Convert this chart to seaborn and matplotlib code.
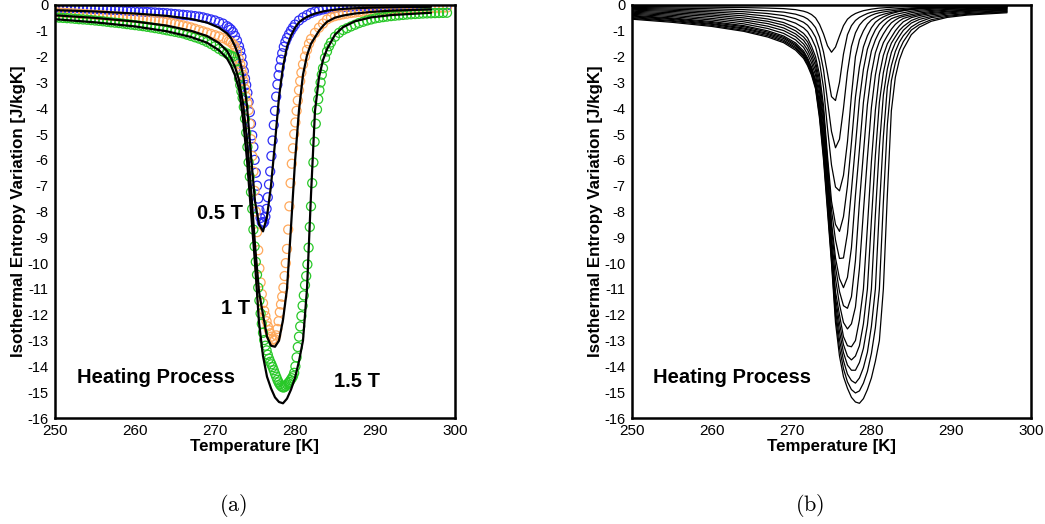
import matplotlib
matplotlib.use("Agg")
import matplotlib.pyplot as plt
import seaborn as sns
import pandas as pd
from matplotlib.ticker import MultipleLocator

# ---------------- data ----------------
# temperature grid shared by the model curves (panel b and fits in panel a)
grid_T = [250, 255, 260, 264, 267, 269, 270.5, 271.5, 272, 272.5, 273, 273.5, 274, 274.5,
          275, 275.5, 276, 276.5, 277, 277.5, 278, 278.5, 279, 279.5, 280, 280.5, 281, 281.5,
          282, 282.5, 283, 283.5, 284, 285, 286, 287.5, 289.5, 292, 297]

model_fields = [0.1, 0.2, 0.3, 0.4, 0.5, 0.6, 0.7, 0.8, 0.9, 1.0, 1.1, 1.2, 1.3, 1.4, 1.5]

model_dS = [
    [-0.06, -0.07, -0.085, -0.10, -0.12, -0.14, -0.18, -0.24, -0.29, -0.37, -0.50, -0.75, -1.12, -1.58, -1.83, -1.63, -1.20, -0.80, -0.55, -0.42, -0.33, -0.27, -0.22, -0.19, -0.16, -0.14, -0.12, -0.11, -0.10, -0.09, -0.08, -0.075, -0.07, -0.06, -0.055, -0.05, -0.045, -0.04, -0.03],
    [-0.095, -0.115, -0.146, -0.18, -0.225, -0.275, -0.355, -0.455, -0.54, -0.68, -0.875, -1.24, -1.82, -2.65, -3.55, -3.70, -3.00, -1.90, -1.15, -0.80, -0.60, -0.48, -0.40, -0.33, -0.28, -0.245, -0.215, -0.195, -0.175, -0.16, -0.15, -0.14, -0.13, -0.11, -0.10, -0.085, -0.075, -0.065, -0.05],
    [-0.13, -0.16, -0.208, -0.26, -0.33, -0.41, -0.53, -0.67, -0.785, -0.985, -1.25, -1.73, -2.51, -3.72, -4.90, -5.53, -5.20, -4.00, -2.60, -1.60, -1.08, -0.78, -0.60, -0.48, -0.40, -0.34, -0.30, -0.27, -0.245, -0.225, -0.205, -0.19, -0.18, -0.14, -0.12, -0.105, -0.09, -0.075, -0.06],
    [-0.165, -0.205, -0.269, -0.34, -0.435, -0.545, -0.705, -0.885, -1.03, -1.29, -1.625, -2.21, -3.20, -4.78, -6.20, -7.05, -7.20, -6.60, -5.30, -3.50, -2.00, -1.35, -1.00, -0.74, -0.58, -0.48, -0.41, -0.36, -0.32, -0.285, -0.255, -0.235, -0.215, -0.16, -0.14, -0.115, -0.10, -0.085, -0.065],
    [-0.20, -0.25, -0.33, -0.42, -0.54, -0.68, -0.88, -1.10, -1.28, -1.60, -2.00, -2.70, -3.90, -5.85, -7.60, -8.50, -8.77, -8.20, -7.00, -5.33, -3.57, -2.40, -1.62, -1.19, -0.88, -0.67, -0.55, -0.46, -0.39, -0.33, -0.29, -0.25, -0.22, -0.18, -0.15, -0.125, -0.105, -0.09, -0.07],
    [-0.24, -0.30, -0.39, -0.50, -0.63, -0.78, -1.00, -1.24, -1.43, -1.76, -2.18, -2.92, -4.16, -6.10, -7.94, -9.10, -9.82, -9.80, -8.85, -7.17, -5.45, -3.67, -2.49, -1.71, -1.28, -0.96, -0.74, -0.60, -0.49, -0.42, -0.37, -0.33, -0.30, -0.24, -0.20, -0.166, -0.138, -0.116, -0.09],
    [-0.28, -0.35, -0.45, -0.58, -0.72, -0.89, -1.12, -1.37, -1.59, -1.92, -2.36, -3.14, -4.42, -6.35, -8.40, -9.80, -10.60, -10.95, -10.55, -9.40, -7.38, -5.61, -3.77, -2.57, -1.78, -1.35, -1.03, -0.81, -0.65, -0.53, -0.47, -0.42, -0.38, -0.30, -0.25, -0.21, -0.17, -0.14, -0.11],
    [-0.32, -0.40, -0.52, -0.65, -0.82, -0.99, -1.23, -1.51, -1.74, -2.08, -2.54, -3.36, -4.68, -6.60, -8.62, -10.15, -11.10, -11.65, -11.75, -11.30, -9.90, -7.64, -5.74, -3.86, -2.65, -1.85, -1.41, -1.12, -0.88, -0.69, -0.58, -0.49, -0.44, -0.37, -0.31, -0.25, -0.20, -0.17, -0.13],
    [-0.36, -0.45, -0.58, -0.73, -0.91, -1.10, -1.35, -1.64, -1.90, -2.24, -2.72, -3.58, -4.94, -6.85, -8.96, -10.60, -11.60, -12.30, -12.55, -12.35, -11.70, -10.20, -8.00, -5.92, -3.97, -2.71, -1.90, -1.46, -1.19, -0.94, -0.75, -0.62, -0.52, -0.43, -0.36, -0.29, -0.24, -0.195, -0.15],
    [-0.40, -0.50, -0.64, -0.80, -1.00, -1.20, -1.47, -1.78, -2.05, -2.40, -2.90, -3.80, -5.20, -7.10, -9.30, -11.10, -12.00, -12.85, -13.20, -13.24, -13.00, -12.20, -11.00, -8.60, -6.07, -4.07, -2.70, -1.95, -1.50, -1.25, -1.00, -0.81, -0.65, -0.49, -0.41, -0.33, -0.27, -0.22, -0.17],
    [-0.43, -0.53, -0.68, -0.84, -1.05, -1.25, -1.53, -1.84, -2.11, -2.46, -2.97, -3.92, -5.36, -7.28, -9.44, -11.34, -12.32, -13.16, -13.60, -13.75, -13.60, -13.20, -12.35, -11.00, -8.35, -5.83, -3.77, -2.62, -1.90, -1.48, -1.23, -0.99, -0.83, -0.60, -0.48, -0.38, -0.31, -0.25, -0.20],
    [-0.46, -0.56, -0.72, -0.89, -1.10, -1.30, -1.58, -1.90, -2.17, -2.53, -3.04, -4.04, -5.52, -7.46, -9.58, -11.58, -12.64, -13.47, -13.95, -14.15, -14.15, -13.85, -13.30, -12.40, -11.00, -8.12, -5.48, -3.49, -2.48, -1.84, -1.46, -1.21, -0.98, -0.70, -0.56, -0.44, -0.35, -0.29, -0.22],
    [-0.49, -0.60, -0.75, -0.93, -1.14, -1.36, -1.64, -1.96, -2.23, -2.59, -3.11, -4.16, -5.68, -7.64, -9.72, -11.82, -12.96, -13.78, -14.30, -14.55, -14.65, -14.45, -14.05, -13.45, -12.45, -11.00, -7.88, -5.10, -3.18, -2.35, -1.80, -1.44, -1.19, -0.85, -0.66, -0.49, -0.40, -0.33, -0.25],
    [-0.52, -0.63, -0.79, -0.98, -1.19, -1.41, -1.69, -2.01, -2.29, -2.66, -3.18, -4.28, -5.84, -7.82, -9.86, -12.06, -13.28, -14.09, -14.60, -14.90, -15.03, -14.95, -14.65, -14.20, -13.50, -12.50, -11.00, -7.63, -4.63, -2.94, -2.24, -1.75, -1.42, -0.97, -0.76, -0.57, -0.44, -0.36, -0.27],
    [-0.55, -0.67, -0.83, -1.02, -1.24, -1.46, -1.75, -2.07, -2.35, -2.72, -3.25, -4.40, -6.00, -8.00, -10.00, -12.30, -13.60, -14.40, -14.85, -15.20, -15.38, -15.43, -15.25, -14.90, -14.45, -13.80, -13.00, -11.00, -7.35, -4.10, -2.80, -2.13, -1.71, -1.15, -0.86, -0.63, -0.48, -0.39, -0.30],
]

# measured points (T [K], dS [J/kgK]) for panel (a)
meas_05T = [
    (250, -0.10), (250.5, -0.105), (251, -0.11), (251.5, -0.115), (252, -0.12), (252.5, -0.125), (253, -0.13),
    (253.5, -0.135), (254, -0.14), (254.5, -0.15), (255, -0.16), (255.5, -0.165), (256, -0.17), (256.5, -0.18),
    (257, -0.19), (257.5, -0.195), (258, -0.20), (258.5, -0.21), (259, -0.22), (259.5, -0.23), (260, -0.24),
    (260.5, -0.25), (261, -0.26), (261.5, -0.27), (262, -0.28), (262.5, -0.29), (263, -0.30), (263.5, -0.31),
    (264, -0.32), (264.5, -0.335), (265, -0.35), (265.5, -0.365), (266, -0.38), (266.5, -0.395), (267, -0.41),
    (267.5, -0.43), (268, -0.45), (268.5, -0.48), (269, -0.52), (269.5, -0.56), (270, -0.60),
    (270.5, -0.66), (271, -0.72), (271.5, -0.82), (271.75, -0.88), (272, -0.95), (272.25, -1.05), (272.5, -1.20),
    (272.75, -1.38), (273, -1.60), (273.15, -1.78), (273.3, -2.00), (273.45, -2.28), (273.6, -2.56), (273.75, -2.85),
    (273.9, -3.10), (274.05, -3.40), (274.2, -3.75), (274.35, -4.15), (274.5, -4.60), (274.65, -5.05), (274.8, -5.50),
    (274.95, -6.00), (275.1, -6.50), (275.25, -7.00), (275.4, -7.50), (275.55, -7.95), (275.7, -8.25), (275.85, -8.42),
    (276, -8.46), (276.15, -8.40), (276.3, -8.20), (276.45, -7.90), (276.6, -7.45), (276.75, -6.95), (276.9, -6.45),
    (277.05, -5.85), (277.2, -5.25), (277.35, -4.65), (277.5, -4.10), (277.65, -3.55), (277.8, -3.08), (277.95, -2.72),
    (278.1, -2.42), (278.25, -2.12), (278.4, -1.87), (278.6, -1.62), (278.8, -1.43), (279, -1.28), (279.25, -1.13),
    (279.5, -0.99), (279.75, -0.87), (280, -0.76), (280.5, -0.60), (281, -0.48), (281.5, -0.39), (282, -0.31),
    (282.5, -0.25), (283, -0.21), (283.5, -0.17), (284, -0.14), (284.5, -0.12), (285, -0.10), (285.5, -0.09),
    (286, -0.08), (286.5, -0.07), (287, -0.06), (287.5, -0.055), (288, -0.05), (288.5, -0.045), (289, -0.04),
    (289.5, -0.035), (290, -0.03), (290.5, -0.03), (291, -0.03), (291.5, -0.025), (292, -0.02), (292.5, -0.02),
    (293, -0.02), (293.5, -0.02), (294, -0.02), (294.5, -0.015), (295, -0.01), (295.5, -0.01), (296, -0.01),
    (296.5, -0.01), (297, -0.01), (297.5, -0.01), (298, -0.01), (298.5, -0.01), (299, -0.01),
]

meas_1T = [
    (250, -0.28), (250.5, -0.29), (251, -0.30), (251.5, -0.31), (252, -0.32), (252.5, -0.33), (253, -0.34),
    (253.5, -0.35), (254, -0.36), (254.5, -0.37), (255, -0.38), (255.5, -0.39), (256, -0.40), (256.5, -0.415),
    (257, -0.43), (257.5, -0.44), (258, -0.45), (258.5, -0.465), (259, -0.48), (259.5, -0.49), (260, -0.50),
    (260.5, -0.515), (261, -0.53), (261.5, -0.55), (262, -0.57), (262.5, -0.59), (263, -0.61), (263.5, -0.635),
    (264, -0.66), (264.5, -0.69), (265, -0.72), (265.5, -0.755), (266, -0.79), (266.5, -0.83), (267, -0.87),
    (267.5, -0.92), (268, -0.97), (268.5, -1.02), (269, -1.07), (269.5, -1.12), (270, -1.17),
    (270.5, -1.22), (271, -1.28), (271.5, -1.35), (271.75, -1.40), (272, -1.45), (272.25, -1.52), (272.5, -1.62),
    (272.75, -1.80), (273, -2.10), (273.15, -2.30), (273.3, -2.50), (273.45, -2.70), (273.6, -2.95), (273.75, -3.25),
    (273.9, -3.55), (274.05, -3.80), (274.2, -4.07), (274.35, -4.60), (274.5, -5.20), (274.65, -5.85), (274.8, -6.45),
    (274.95, -7.20), (275.1, -8.00), (275.25, -8.80), (275.4, -9.50), (275.55, -10.20), (275.7, -10.75), (275.85, -11.20),
    (276, -11.55), (276.15, -11.85), (276.3, -12.05), (276.45, -12.25), (276.6, -12.45), (276.75, -12.60), (276.9, -12.72),
    (277.05, -12.85), (277.2, -12.95), (277.35, -13.00), (277.5, -12.95), (277.65, -12.80), (277.8, -12.55), (277.95, -12.25),
    (278.1, -11.90), (278.25, -11.60), (278.4, -11.30), (278.55, -10.95), (278.7, -10.50), (278.85, -10.00), (279, -9.45),
    (279.15, -8.70), (279.3, -7.80), (279.45, -6.90), (279.6, -6.15), (279.75, -5.55), (279.9, -5.00), (280.05, -4.55),
    (280.2, -4.10), (280.35, -3.70), (280.5, -3.30), (280.65, -2.95), (280.8, -2.62), (281, -2.30), (281.25, -2.00),
    (281.5, -1.74), (281.75, -1.50), (282, -1.32), (282.5, -1.08), (283, -0.88), (283.5, -0.72), (284, -0.56),
    (284.5, -0.48), (285, -0.43), (285.5, -0.395), (286, -0.36), (286.5, -0.335), (287, -0.31), (287.5, -0.29),
    (288, -0.27), (288.5, -0.255), (289, -0.24), (289.5, -0.225), (290, -0.21), (290.5, -0.20), (291, -0.19),
    (291.5, -0.18), (292, -0.17), (292.5, -0.165), (293, -0.16), (293.5, -0.155), (294, -0.15), (294.5, -0.145),
    (295, -0.14), (295.5, -0.135), (296, -0.13), (296.5, -0.125), (297, -0.12), (297.5, -0.115), (298, -0.11),
    (298.5, -0.105), (299, -0.10),
]

meas_15T = [
    (250, -0.48), (250.5, -0.49), (251, -0.50), (251.5, -0.51), (252, -0.52), (252.5, -0.535), (253, -0.55),
    (253.5, -0.56), (254, -0.57), (254.5, -0.585), (255, -0.60), (255.5, -0.615), (256, -0.63), (256.5, -0.65),
    (257, -0.67), (257.5, -0.685), (258, -0.70), (258.5, -0.72), (259, -0.74), (259.5, -0.76), (260, -0.78),
    (260.5, -0.80), (261, -0.82), (261.5, -0.845), (262, -0.87), (262.5, -0.895), (263, -0.92), (263.5, -0.95),
    (264, -0.98), (264.5, -1.01), (265, -1.04), (265.5, -1.07), (266, -1.10), (266.5, -1.15), (267, -1.20),
    (267.5, -1.25), (268, -1.30), (268.5, -1.36), (269, -1.43), (269.5, -1.51), (270, -1.60),
    (270.5, -1.70), (271, -1.80), (271.5, -1.88), (271.75, -1.93), (272, -1.97), (272.25, -2.00), (272.5, -2.20),
    (272.75, -2.50), (273, -2.85), (273.15, -3.10), (273.3, -3.35), (273.45, -3.60), (273.6, -3.95), (273.75, -4.40),
    (273.9, -4.95), (274.05, -5.50), (274.2, -6.10), (274.35, -6.65), (274.5, -7.25), (274.65, -7.90), (274.8, -8.70),
    (274.95, -9.35), (275.1, -9.95), (275.25, -10.45), (275.4, -10.95), (275.55, -11.45), (275.7, -11.95), (275.85, -12.35),
    (276, -12.70), (276.15, -12.98), (276.3, -13.20), (276.45, -13.38), (276.6, -13.55), (276.75, -13.70), (276.9, -13.82),
    (277.05, -13.92), (277.2, -14.03), (277.35, -14.15), (277.5, -14.28), (277.65, -14.40), (277.8, -14.52), (277.95, -14.62),
    (278.1, -14.70), (278.25, -14.76), (278.4, -14.80), (278.55, -14.82), (278.7, -14.80), (278.85, -14.76), (279, -14.70),
    (279.15, -14.65), (279.3, -14.60), (279.45, -14.53), (279.6, -14.46), (279.75, -14.38), (279.9, -14.25), (280.05, -14.00),
    (280.2, -13.65), (280.35, -13.25), (280.5, -12.85), (280.65, -12.45), (280.8, -12.05), (280.95, -11.65), (281.1, -11.25),
    (281.25, -10.85), (281.4, -10.50), (281.55, -10.05), (281.7, -9.40), (281.85, -8.60), (282, -7.80), (282.15, -6.90),
    (282.3, -6.10), (282.45, -5.30), (282.6, -4.60), (282.75, -4.05), (282.9, -3.65), (283.05, -3.30), (283.2, -3.00),
    (283.35, -2.70), (283.5, -2.45), (283.75, -2.05), (284, -1.80), (284.25, -1.60), (284.5, -1.45), (285, -1.23),
    (285.5, -1.08), (286, -0.97), (286.5, -0.90), (287, -0.83), (287.5, -0.765), (288, -0.70), (288.5, -0.65),
    (289, -0.60), (289.5, -0.56), (290, -0.52), (290.5, -0.495), (291, -0.47), (291.5, -0.45), (292, -0.43),
    (292.5, -0.415), (293, -0.40), (293.5, -0.385), (294, -0.37), (294.5, -0.36), (295, -0.35), (295.5, -0.34),
    (296, -0.33), (296.5, -0.325), (297, -0.32), (297.5, -0.315), (298, -0.31), (298.5, -0.305), (299, -0.30),
]

meas_colors = {"0.5 T": "#2f2ff5", "1 T": "#ffa95c", "1.5 T": "#28c828"}
fit_fields = [0.5, 1.0, 1.5]

# ---------------- style ----------------
sns.set_theme(style="white")
plt.rcParams.update({
    "font.family": ["Liberation Sans", "DejaVu Sans"],
    "axes.unicode_minus": False,
    "mathtext.fontset": "cm",
    "axes.edgecolor": "black",
    "axes.labelcolor": "black",
    "text.color": "black",
    "xtick.color": "black",
    "ytick.color": "black",
})

for row in model_dS:
    assert len(row) == len(grid_T)

model_df = pd.DataFrame(
    [(f, t, v) for f, row in zip(model_fields, model_dS) for t, v in zip(grid_T, row)],
    columns=["field", "T", "dS"],
)

fig = plt.figure(figsize=(10.45, 5.24), dpi=100)
axL = fig.add_axes([55 / 1045, 106 / 524, 400 / 1045, 413 / 524])
axR = fig.add_axes([632 / 1045, 106 / 524, 399 / 1045, 413 / 524])

# ---- panel (a): measured points + model fits ----
for name, pts in [("0.5 T", meas_05T), ("1 T", meas_1T), ("1.5 T", meas_15T)]:
    mdf = pd.DataFrame(pts, columns=["T", "dS"])
    col = meas_colors[name]
    sns.scatterplot(data=mdf, x="T", y="dS", ax=axL, marker="o", s=42,
                    facecolors="none", edgecolor=col, linewidth=0.9, legend=False, zorder=2)
    axL.collections[-1].set_facecolor("none")
    axL.collections[-1].set_edgecolor(col)

fit_df = model_df[model_df["field"].isin(fit_fields)]
sns.lineplot(data=fit_df, x="T", y="dS", units="field", estimator=None, ax=axL,
             color="black", linewidth=1.6, zorder=3, legend=False)

axL.text(270.6, -8.06, "0.5 T", fontsize=14.5, fontweight="bold", ha="center", va="center")
axL.text(272.6, -11.74, "1 T", fontsize=14.5, fontweight="bold", ha="center", va="center")
axL.text(287.75, -14.57, "1.5 T", fontsize=14.5, fontweight="bold", ha="center", va="center")
axL.text(262.6, -14.42, "Heating Process", fontsize=14.5, fontweight="bold", ha="center", va="center")

# ---- panel (b): model curves for all fields ----
sns.lineplot(data=model_df, x="T", y="dS", units="field", estimator=None, ax=axR,
             color="black", linewidth=0.9, legend=False)
axR.text(262.5, -14.42, "Heating Process", fontsize=14.5, fontweight="bold", ha="center", va="center")

for ax in (axL, axR):
    ax.set_xlim(250, 300)
    ax.set_ylim(-16, 0)
    ax.xaxis.set_major_locator(MultipleLocator(10))
    ax.xaxis.set_minor_locator(MultipleLocator(2))
    ax.yaxis.set_major_locator(MultipleLocator(1))
    ax.yaxis.set_minor_locator(MultipleLocator(0.2))
    ax.tick_params(which="both", direction="in", top=False, right=False)
    ax.tick_params(axis="y", labelsize=10.5)
    ax.tick_params(axis="x", labelsize=11)
    ax.tick_params(which="major", length=7, width=1.2)
    ax.tick_params(which="minor", length=3.5, width=0.9)
    ax.tick_params(axis="x", which="major", pad=4.5)
    ax.tick_params(axis="y", which="major", pad=4.5)
    for sp in ax.spines.values():
        sp.set_visible(True)
        sp.set_linewidth(1.8)
        sp.set_color("black")
    ax.set_xlabel("Temperature [K]", fontsize=12.2, fontweight="bold", labelpad=0.5)
    ax.set_ylabel("Isothermal Entropy Variation [J/kgK]", fontsize=12.2, fontweight="bold", labelpad=1)

fig.text(233 / 1045, 0.036, r"$\mathrm{(a)}$", fontsize=16, ha="center", va="center")
fig.text(810 / 1045, 0.036, r"$\mathrm{(b)}$", fontsize=16, ha="center", va="center")

fig.savefig("out.png", dpi=100)
